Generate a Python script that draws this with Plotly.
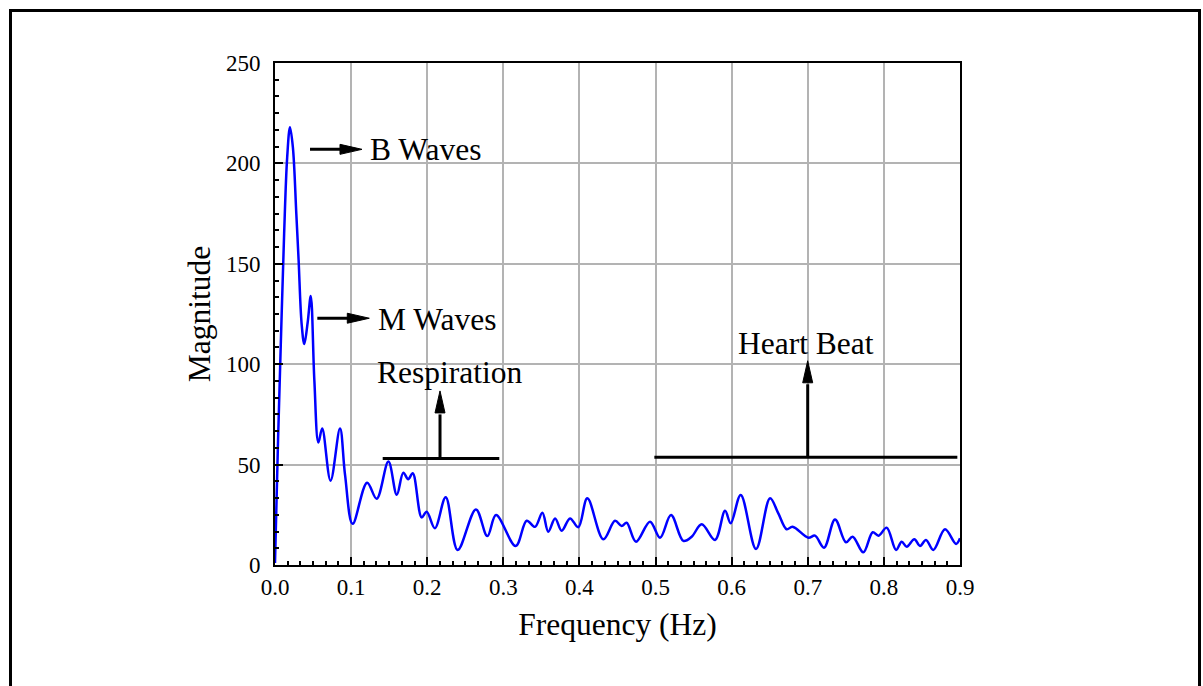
import plotly.graph_objects as go

# Spectrum of the recorded signal (frequency in Hz, magnitude in arbitrary units)
freq_hz = [0.0, 0.004, 0.008, 0.012, 0.016, 0.0197, 0.0235, 0.028, 0.031, 0.035,
           0.0385, 0.043, 0.047, 0.0517, 0.057, 0.062, 0.073, 0.0854, 0.092, 0.102,
           0.121, 0.1336, 0.149, 0.160, 0.1686, 0.175, 0.181, 0.1927, 0.1993, 0.210,
           0.2243, 0.240, 0.264, 0.279, 0.2904, 0.3162, 0.3307, 0.3416, 0.3513, 0.359,
           0.368, 0.3767, 0.3876, 0.3985, 0.4104, 0.4314, 0.4467, 0.4555, 0.462, 0.4743,
           0.4927, 0.5059, 0.5203, 0.5365, 0.5475, 0.5606, 0.5781, 0.5913, 0.5987, 0.6119,
           0.632, 0.6504, 0.6613, 0.6723, 0.680, 0.7007, 0.7095, 0.7213, 0.7358, 0.7502,
           0.759, 0.773, 0.7853, 0.793, 0.8037, 0.816, 0.8234, 0.830, 0.840, 0.8475,
           0.8553, 0.865, 0.8803, 0.8949, 0.9]
magnitude = [1, 62, 115, 165, 203, 218, 208, 175, 152, 120,
             110, 121, 134, 92, 61, 68, 42, 68, 45, 20.5,
             41, 33, 51.5, 35, 46, 42.7, 45.7, 23.7, 26.5, 18.3,
             33.7, 7.5, 27.7, 14.4, 24.9, 9.5, 22, 19, 26, 16.6,
             23.2, 17.1, 23.2, 18.8, 33.2, 12.8, 22, 19.4, 21, 11.6,
             21.6, 13.6, 24.9, 12, 14.1, 20.3, 12.5, 27, 20.8, 34.9,
             8, 33.2, 25.7, 17.8, 19.1, 13.6, 14.6, 8.6, 22.7, 11.3,
             14.1, 6.3, 16.3, 14.6, 18.6, 7.5, 11.6, 9.1, 12.8, 9.5,
             12.5, 7.5, 17.8, 10.5, 13.3]

x_ticks = [0.0, 0.1, 0.2, 0.3, 0.4, 0.5, 0.6, 0.7, 0.8, 0.9]
x_tick_text = ["0.0", "0.1", "0.2", "0.3", "0.4", "0.5", "0.6", "0.7", "0.8", "0.9"]
y_ticks = [0, 50, 100, 150, 200, 250]

FONT = "Liberation Serif, Times New Roman, serif"
W, H = 1203, 686
L, R, T, B = 275, 243, 63, 121

fig = go.Figure()
fig.add_trace(go.Scatter(
    x=freq_hz, y=magnitude, mode="lines",
    line=dict(color="#0000ff", width=2.5, shape="spline", smoothing=1.0),
    showlegend=False, hoverinfo="skip",
))

axis_common = dict(
    showline=True, linecolor="black", linewidth=2, mirror=True,
    showgrid=True, gridcolor="#b3b3b3", gridwidth=1.5,
    ticks="inside", ticklen=8, tickwidth=1.5, tickcolor="black",
    zeroline=False,
    tickfont=dict(family=FONT, size=23, color="black"),
)

fig.update_xaxes(
    range=[0, 0.9], tickvals=x_ticks, ticktext=x_tick_text,
    minor=dict(ticks="inside", ticklen=4, tickwidth=1.5, tickcolor="black",
               dtick=0.1 / 6, tick0=0, showgrid=False),
    ticklabelstandoff=0,
    title=dict(text="Frequency (Hz)", font=dict(family=FONT, size=31.5, color="black"),
               standoff=14),
    **axis_common,
)
fig.update_yaxes(
    range=[0, 250], tickvals=y_ticks,
    minor=dict(ticks="inside", ticklen=4, tickwidth=1.5, tickcolor="black",
               dtick=50 / 6, tick0=0, showgrid=False),
    ticklabelstandoff=8,
    title=dict(text="Magnitude", font=dict(family=FONT, size=31.5, color="black"),
               standoff=6),
    **axis_common,
)

# Outer frame (open at the bottom edge of the page)
def px_to_paper_x(px):
    return (px - L) / (W - L - R)

def px_to_paper_y(py):
    return (H - B - py) / (H - T - B)

shapes = [dict(type="rect", xref="paper", yref="paper",
               x0=px_to_paper_x(10.5), x1=px_to_paper_x(1199.5),
               y0=px_to_paper_y(720), y1=px_to_paper_y(10.5),
               line=dict(color="black", width=3), fillcolor="rgba(0,0,0,0)",
               layer="below")]

ARROW_W = 3
# band brackets and arrow shafts, in data units
segments = [
    # B waves pointer
    (0.046, 207.0, 0.100, 207.0),
    # M waves pointer
    (0.0556, 122.9, 0.110, 122.9),
    # respiration band
    (0.1415, 53.1, 0.2947, 53.1),
    (0.2168, 53.1, 0.2168, 75.0),
    # heart beat band
    (0.4984, 53.6, 0.8965, 53.6),
    (0.6999, 53.6, 0.6999, 90.0),
]
for x0, y0, x1, y1 in segments:
    shapes.append(dict(type="line", xref="x", yref="y", x0=x0, y0=y0, x1=x1, y1=y1,
                       line=dict(color="black", width=ARROW_W)))

# arrow heads drawn in pixel units anchored at their tips
heads = [
    (0.1143, 207.0, "M0,0 L-22,5 L-22,-5 Z"),
    (0.1239, 122.9, "M0,0 L-22,5 L-22,-5 Z"),
    (0.2168, 86.7, "M0,0 L-5,-22 L5,-22 Z"),
    (0.6999, 101.7, "M0,0 L-5,-22 L5,-22 Z"),
]
for xa, ya, path in heads:
    shapes.append(dict(type="path", xref="x", yref="y", xsizemode="pixel", ysizemode="pixel",
                       xanchor=xa, yanchor=ya, path=path,
                       fillcolor="black", line=dict(color="black", width=1)))

labels = [
    ("B Waves", 0.1222, 206.7),
    ("M Waves", 0.1327, 122.5),
    ("Respiration", 0.1314, 96.1),
    ("Heart Beat", 0.6057, 110.1),
]
annotations = [dict(text=t, x=x, y=y, xref="x", yref="y", showarrow=False,
                    xanchor="left", yanchor="middle",
                    font=dict(family=FONT, size=31.5, color="black"))
               for t, x, y in labels]

fig.update_layout(
    width=W, height=H,
    margin=dict(l=L, r=R, t=T, b=B),
    paper_bgcolor="white", plot_bgcolor="white",
    shapes=shapes, annotations=annotations,
    font=dict(family=FONT, color="black"),
)

fig.write_html("out.html")
